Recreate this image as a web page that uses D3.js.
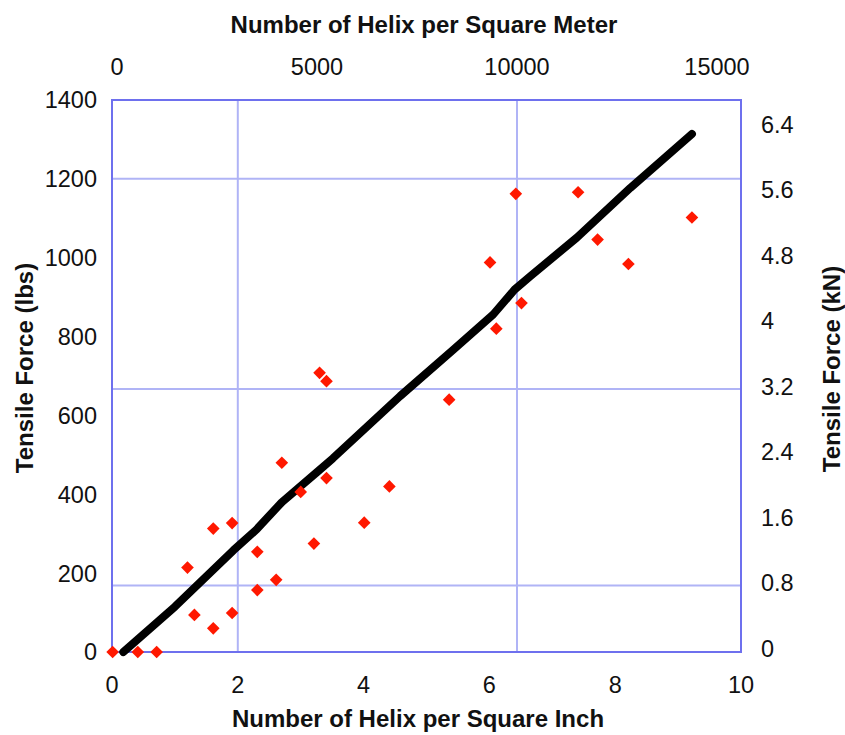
<!DOCTYPE html>
<html lang="en">
  <head>
    <meta charset="utf-8" />
    <title>Tensile Force vs Helix Density</title>
    <script src="https://d3js.org/d3.v7.min.js"></script>
    <style>
      body {
        margin: 0;
        background: #fff;
      }
      svg {
        display: block;
      }
      .tick-label {
        font-family: 'Liberation Sans', Arial, sans-serif;
        font-size: 23.5px;
        fill: #111;
      }
      .title {
        font-family: 'Liberation Sans', Arial, sans-serif;
        font-size: 24px;
        font-weight: bold;
        fill: #111;
      }
    </style>
  </head>
  <body>
    <svg width="845" height="735"></svg>
    <script>

    // measured specimens: helix per square inch vs tensile force (lbs)
    var helixPerInch = [0.01, 0.41, 0.71, 1.20, 1.31, 1.61, 1.61, 1.91, 1.91, 2.31,
                        2.31, 2.61, 2.70, 3.00, 3.21, 3.41, 3.30, 3.41, 4.01, 4.41,
                        5.36, 6.01, 6.11, 6.42, 6.51, 7.41, 7.72, 8.21, 9.22];
    var forceLbs = [0, 0, 0, 214, 94, 313, 60, 327, 99, 254,
                    157, 183, 480, 406, 275, 441, 708, 687, 328, 420,
                    640, 988, 820, 1162, 885, 1166, 1046, 984, 1102];

    // fitted trend line
    var fitX = [0.18, 1.0, 1.93, 2.3, 2.7, 3.25, 3.51, 4.58, 5.43, 6.06, 6.4, 6.65, 7.39, 8.24, 9.22];
    var fitY = [0, 115, 258, 311, 380, 455, 491, 649, 767, 856, 919, 953, 1051, 1177, 1314];

    var bottomTicks = [0, 2, 4, 6, 8, 10];
    var leftTicks = [0, 200, 400, 600, 800, 1000, 1200, 1400];
    var topTicks = [0, 5000, 10000, 15000];
    var rightTicks = [0, 0.8, 1.6, 2.4, 3.2, 4, 4.8, 5.6, 6.4];

    var svg = d3.select("svg");

    var x = d3.scaleLinear().domain([0, 10]).range([112, 741]),
        y = d3.scaleLinear().domain([0, 1400]).range([652, 100]),
        xTop = d3.scaleLinear().domain([0, 15000]).range([117, 717]),
        yKn = d3.scaleLinear().domain([0, 6.4]).range([651, 127]);

    var grid = "#b0b4f6",
        frame = "#6e70ee";

    // grid lines
    svg.append("line")
        .attr("x1", x(0)).attr("x2", x(10))
        .attr("y1", y(1200)).attr("y2", y(1200))
        .attr("stroke", grid).attr("stroke-width", 2);
    [0.8, 3.2].forEach(function(v) {
      svg.append("line")
          .attr("x1", x(0)).attr("x2", x(10))
          .attr("y1", yKn(v)).attr("y2", yKn(v))
          .attr("stroke", grid).attr("stroke-width", 2);
    });
    svg.append("line")
        .attr("x1", x(2)).attr("x2", x(2))
        .attr("y1", y(0)).attr("y2", y(1400))
        .attr("stroke", grid).attr("stroke-width", 2);
    svg.append("line")
        .attr("x1", xTop(10000)).attr("x2", xTop(10000))
        .attr("y1", y(0)).attr("y2", y(1400))
        .attr("stroke", grid).attr("stroke-width", 2);

    // frame
    svg.append("rect")
        .attr("x", x(0)).attr("y", y(1400))
        .attr("width", x(10) - x(0)).attr("height", y(0) - y(1400))
        .attr("fill", "none")
        .attr("stroke", frame).attr("stroke-width", 2);

    // trend line
    var line = d3.line()
        .x(function(d) { return x(d[0]); })
        .y(function(d) { return y(d[1]); });

    svg.append("path")
        .datum(d3.zip(fitX, fitY))
        .attr("d", line)
        .attr("fill", "none")
        .attr("stroke", "#000")
        .attr("stroke-width", 8)
        .attr("stroke-linecap", "round")
        .attr("stroke-linejoin", "round");

    // data points as red diamonds
    svg.append("g").selectAll("path")
        .data(d3.zip(helixPerInch, forceLbs))
        .enter().append("path")
        .attr("d", d3.symbol().type(d3.symbolSquare).size(80))
        .attr("transform", function(d) {
          return "translate(" + x(d[0]) + "," + y(d[1]) + ") rotate(45)";
        })
        .attr("fill", "#ff1800");

    // tick labels
    svg.append("g").selectAll("text")
        .data(bottomTicks)
        .enter().append("text")
        .attr("class", "tick-label")
        .attr("x", function(d) { return x(d); })
        .attr("y", 693)
        .attr("text-anchor", "middle")
        .text(function(d) { return d; });

    svg.append("g").selectAll("text")
        .data(leftTicks)
        .enter().append("text")
        .attr("class", "tick-label")
        .attr("x", 97)
        .attr("y", function(d) { return y(d); })
        .attr("dy", "0.36em")
        .attr("text-anchor", "end")
        .text(function(d) { return d; });

    svg.append("g").selectAll("text")
        .data(topTicks)
        .enter().append("text")
        .attr("class", "tick-label")
        .attr("x", function(d) { return xTop(d); })
        .attr("y", 75)
        .attr("text-anchor", "middle")
        .text(function(d) { return d; });

    svg.append("g").selectAll("text")
        .data(rightTicks)
        .enter().append("text")
        .attr("class", "tick-label")
        .attr("x", 761)
        .attr("y", function(d) { return yKn(d); })
        .attr("dy", "0.25em")
        .attr("text-anchor", "start")
        .text(function(d) { return d; });

    // axis titles
    svg.append("text")
        .attr("class", "title")
        .attr("x", 424).attr("y", 33)
        .attr("text-anchor", "middle")
        .text("Number of Helix per Square Meter");

    svg.append("text")
        .attr("class", "title")
        .attr("x", 418).attr("y", 727)
        .attr("text-anchor", "middle")
        .text("Number of Helix per Square Inch");

    svg.append("text")
        .attr("class", "title")
        .attr("transform", "translate(33,368) rotate(-90)")
        .attr("text-anchor", "middle")
        .text("Tensile Force (lbs)");

    svg.append("text")
        .attr("class", "title")
        .attr("transform", "translate(840,369) rotate(-90)")
        .attr("text-anchor", "middle")
        .text("Tensile Force (kN)");

    </script>
  </body>
</html>
